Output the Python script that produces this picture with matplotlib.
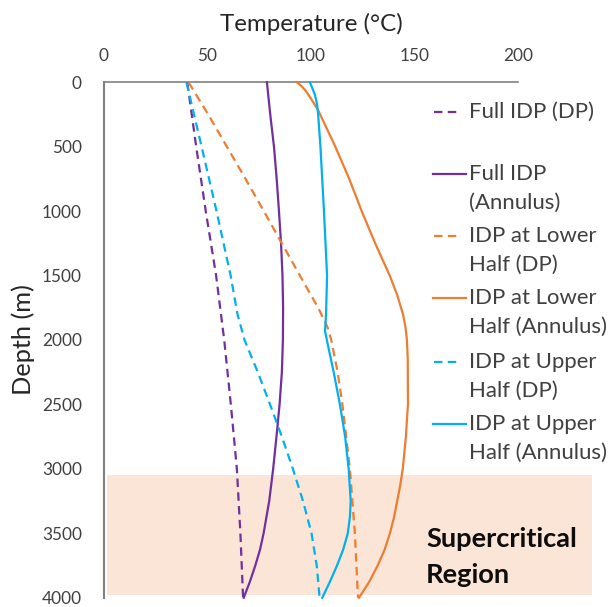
import matplotlib
matplotlib.use("Agg")
import matplotlib.pyplot as plt
from matplotlib.lines import Line2D
from matplotlib.patches import Rectangle

# ---------------- data ----------------
full_dp_depth = [0, 500, 1000, 1500, 2000, 2500, 3000, 3500, 4000]
full_dp_temp = [40.4, 44.7, 49.3, 54.3, 58.2, 61.4, 64.3, 66.0, 67.3]

full_an_depth = [0, 250, 500, 750, 1000, 1250, 1500, 1750, 2000, 2250, 2500, 2750, 3000,
                 3250, 3500, 3625, 3750, 3875, 4000]
full_an_temp = [78.8, 80.4, 82.2, 83.5, 84.6, 85.6, 86.3, 86.6, 86.5, 86.0, 84.9, 83.4, 81.8,
                79.9, 77.2, 75.5, 73.2, 70.6, 67.6]

lower_dp_depth = [0, 250, 500, 750, 1000, 1250, 1500, 1750, 1900, 2000, 2250, 2500, 3000, 3500, 4000]
lower_dp_temp = [41.0, 50.5, 59.5, 68.5, 77.3, 86.0, 94.7, 103.5, 108.0, 109.8, 112.9, 115.2, 118.8, 121.2, 122.7]

lower_an_depth = [0, 30, 60, 120, 220, 500, 750, 1000, 1250, 1500, 1650, 1800, 1900, 2000,
                  2150, 2500, 2750, 3000, 3125, 3250, 3375, 3500, 3625, 3750, 3875, 4000]
lower_an_temp = [93.3, 95.5, 97.2, 99.8, 103.6, 111.8, 118.5, 124.5, 131.0, 138.0, 141.6, 144.4,
                 145.6, 146.3, 146.7, 146.8, 145.8, 144.3, 143.1, 141.6, 140.1, 138.1, 135.6,
                 132.2, 128.2, 123.2]

upper_dp_depth = [0, 500, 1000, 1500, 1800, 2000, 2250, 2500, 2750, 3000, 3250, 3500, 3750, 4000]
upper_dp_temp = [40.0, 47.3, 54.5, 61.3, 64.6, 68.0, 74.4, 80.3, 86.0, 91.3, 96.2, 100.3, 102.8, 104.2]

upper_an_depth = [0, 50, 100, 175, 250, 500, 1000, 1500, 1800, 1930, 2100, 2250, 2500, 2750,
                  3000, 3250, 3375, 3500, 3625, 3750, 3875, 4000]
upper_an_temp = [99.5, 100.8, 102.0, 103.0, 103.5, 104.6, 106.3, 107.8, 107.3, 106.8, 109.0,
                 111.0, 114.0, 116.5, 118.2, 119.2, 118.8, 117.8, 115.6, 112.6, 109.2, 105.5]

super_top, super_bottom = 3045, 3980

x_ticks = [0, 50, 100, 150, 200]
y_ticks = [0, 500, 1000, 1500, 2000, 2500, 3000, 3500, 4000]

legend_labels = [
    ["Full IDP (DP)"],
    ["Full IDP", "(Annulus)"],
    ["IDP at Lower", "Half (DP)"],
    ["IDP at Lower", "Half (Annulus)"],
    ["IDP at Upper", "Half (DP)"],
    ["IDP at Upper", "Half (Annulus)"],
]

PURPLE = "#7030A0"
ORANGE = "#ED7D31"
CYAN = "#00B0F0"
SHADE = "#FBE5D6"
TXT = "#404040"
FONT = ["Lato", "DejaVu Sans"]

plt.rcParams["font.family"] = FONT

W, H = 608, 607
fig = plt.figure(figsize=(W / 100, H / 100), dpi=100)
renderer = fig.canvas.get_renderer()


def fit_size(s, target_w, weight="normal", base=12.0):
    t = fig.text(0, 0, s, fontsize=base, weight=weight)
    w = t.get_window_extent(renderer).width
    t.remove()
    return base * target_w / w


def fx(px):
    return px / W


def fy(py):
    return 1 - py / H


ax_l, ax_r, ax_t, ax_b = 103.5, 518.3, 82.3, 597.7
ax = fig.add_axes([fx(ax_l), fy(ax_b), (ax_r - ax_l) / W, (ax_b - ax_t) / H])
ax.set_xlim(0, 200)
ax.set_ylim(4000, 0)

# shaded supercritical band (extends beyond the axes to the right)
ax.add_patch(Rectangle((1.6, super_top), 235.3 - 1.6, super_bottom - super_top,
                       facecolor=SHADE, edgecolor="none", zorder=0, clip_on=False))

lw = 1.6
dash = (3.8, 2.4)
series = [
    (full_dp_temp, full_dp_depth, PURPLE, True),
    (full_an_temp, full_an_depth, PURPLE, False),
    (lower_dp_temp, lower_dp_depth, ORANGE, True),
    (lower_an_temp, lower_an_depth, ORANGE, False),
    (upper_dp_temp, upper_dp_depth, CYAN, True),
    (upper_an_temp, upper_an_depth, CYAN, False),
]
for t, d, c, dashed in series:
    if dashed:
        ax.plot(t, d, color=c, lw=lw, dashes=dash, zorder=3, clip_on=False)
    else:
        ax.plot(t, d, color=c, lw=lw, zorder=3, clip_on=False, solid_joinstyle="round")

# spines
for s in ["right", "bottom"]:
    ax.spines[s].set_visible(False)
ax.spines["left"].set_color("#808080")
ax.spines["left"].set_linewidth(1.5)
ax.spines["top"].set_color("#808080")
ax.spines["top"].set_linewidth(1.2)
ax.patch.set_alpha(0)

# ticks
tick_fs_x = fit_size("100", 30)
tick_fs_y = fit_size("1000", 40)
ax.xaxis.tick_top()
ax.set_xticks(x_ticks)
ax.set_yticks(y_ticks)
ax.tick_params(axis="x", length=0, pad=13, labelsize=tick_fs_x, labelcolor=TXT)
ax.tick_params(axis="y", length=0, pad=15.5, labelsize=tick_fs_y, labelcolor=TXT)

# axis labels
title_fs = fit_size("Temperature (\u00b0C)", 182)
ax.set_xlabel("Temperature (\u00b0C)", fontsize=title_fs, color="#262626", va="baseline")
ax.xaxis.set_label_position("top")
ax.xaxis.set_label_coords(0.5, (ax_b - 30.7) / (ax_b - ax_t))
ylab_fs = fit_size("Depth (m)", 110)
ax.set_ylabel("Depth (m)", fontsize=ylab_fs, color="#262626", va="center", ha="center")
ax.yaxis.set_label_coords((23 - ax_l) / (ax_r - ax_l), 0.5)

# legend (manual, outside right of plot)
leg_fs = fit_size("Half (Annulus)", 137)
leg_text_x = 469
leg_first_centers = [111.7, 174, 236, 298.5, 362, 424]
line_gap = 28.5
leg_styles = [(PURPLE, True), (PURPLE, False), (ORANGE, True), (ORANGE, False), (CYAN, True), (CYAN, False)]
for labels, yc, (c, dashed) in zip(legend_labels, leg_first_centers, leg_styles):
    for i, lab in enumerate(labels):
        fig.text(fx(leg_text_x), fy(yc + i * line_gap), lab, fontsize=leg_fs,
                 color=TXT, ha="left", va="center")
    if dashed:
        ln = Line2D([fx(434), fx(461)], [fy(yc), fy(yc)], transform=fig.transFigure,
                    color=c, lw=lw, dashes=dash)
    else:
        ln = Line2D([fx(433), fx(466)], [fy(yc), fy(yc)], transform=fig.transFigure,
                    color=c, lw=lw)
    fig.add_artist(ln)

# supercritical label
sc_fs = fit_size("Supercritical", 151, weight="bold")
fig.text(fx(426), fy(547.3), "Supercritical", fontsize=sc_fs, weight="bold",
         color="#0d0d0d", ha="left", va="baseline")
fig.text(fx(426), fy(582.7), "Region", fontsize=sc_fs, weight="bold",
         color="#0d0d0d", ha="left", va="baseline")

fig.savefig("out.png", dpi=100)
